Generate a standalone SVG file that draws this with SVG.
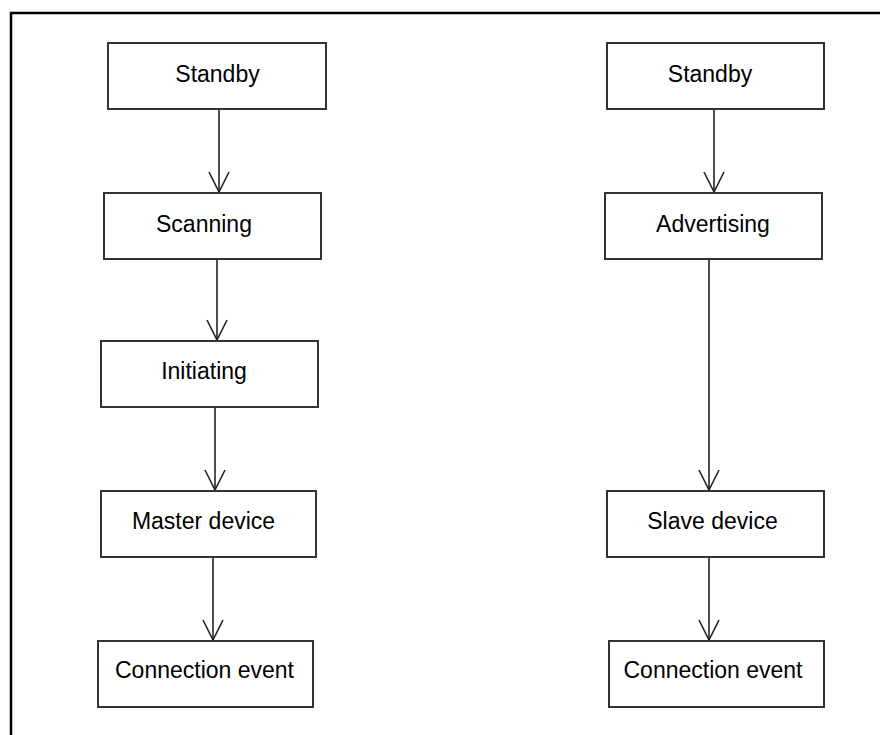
<svg xmlns="http://www.w3.org/2000/svg" width="880" height="735" viewBox="0 0 880 735">
  <style>
    .box rect { fill: #ffffff; stroke: #333333; stroke-width: 2; }
    .box text { font-family: "Liberation Sans", Arial, sans-serif; font-size: 23px; fill: #000000; text-anchor: middle; }
    .conn line { stroke: #222222; stroke-width: 1.6; fill: none; marker-end: url(#arrow); }
    .frame { fill: none; stroke: #000000; stroke-width: 2.5; }
  </style>
  <defs>
    <marker id="arrow" markerUnits="userSpaceOnUse" markerWidth="24" markerHeight="24" viewBox="-22 -12 24 24" refX="0" refY="0" orient="auto" overflow="visible">
      <path d="M -20,-10 L 0,0 L -20,10" fill="none" stroke="#222222" stroke-width="1.6"/>
    </marker>
  </defs>
  <rect width="880" height="735" fill="#ffffff"/>
  <path class="frame" d="M 11,735 L 11,13 L 880,13"/>

  <g id="connectors" class="conn">
    <line x1="219" y1="109" x2="219" y2="192"/>
    <line x1="217" y1="259" x2="217" y2="340"/>
    <line x1="215" y1="407" x2="215" y2="490"/>
    <line x1="213" y1="557" x2="213" y2="640"/>
    <line x1="714" y1="109" x2="714" y2="192"/>
    <line x1="709" y1="259" x2="709" y2="490"/>
    <line x1="709" y1="557" x2="709" y2="640"/>
  </g>

  <g id="standby-left" class="box">
    <rect x="108" y="43" width="218" height="66"/>
    <text x="217.5" y="82">Standby</text>
  </g>
  <g id="scanning" class="box">
    <rect x="104" y="193" width="217" height="66"/>
    <text x="204" y="232">Scanning</text>
  </g>
  <g id="initiating" class="box">
    <rect x="101" y="341" width="217" height="66"/>
    <text x="204" y="379">Initiating</text>
  </g>
  <g id="master-device" class="box">
    <rect x="101" y="491" width="215" height="66"/>
    <text x="203.5" y="529">Master device</text>
  </g>
  <g id="connection-event-left" class="box">
    <rect x="98" y="641" width="215" height="66"/>
    <text x="204.5" y="678">Connection event</text>
  </g>

  <g id="standby-right" class="box">
    <rect x="607" y="43" width="217" height="66"/>
    <text x="710" y="82">Standby</text>
  </g>
  <g id="advertising" class="box">
    <rect x="605" y="193" width="217" height="66"/>
    <text x="713" y="232">Advertising</text>
  </g>
  <g id="slave-device" class="box">
    <rect x="607" y="491" width="217" height="66"/>
    <text x="712.5" y="529">Slave device</text>
  </g>
  <g id="connection-event-right" class="box">
    <rect x="609" y="641" width="215" height="66"/>
    <text x="713" y="678">Connection event</text>
  </g>
</svg>
